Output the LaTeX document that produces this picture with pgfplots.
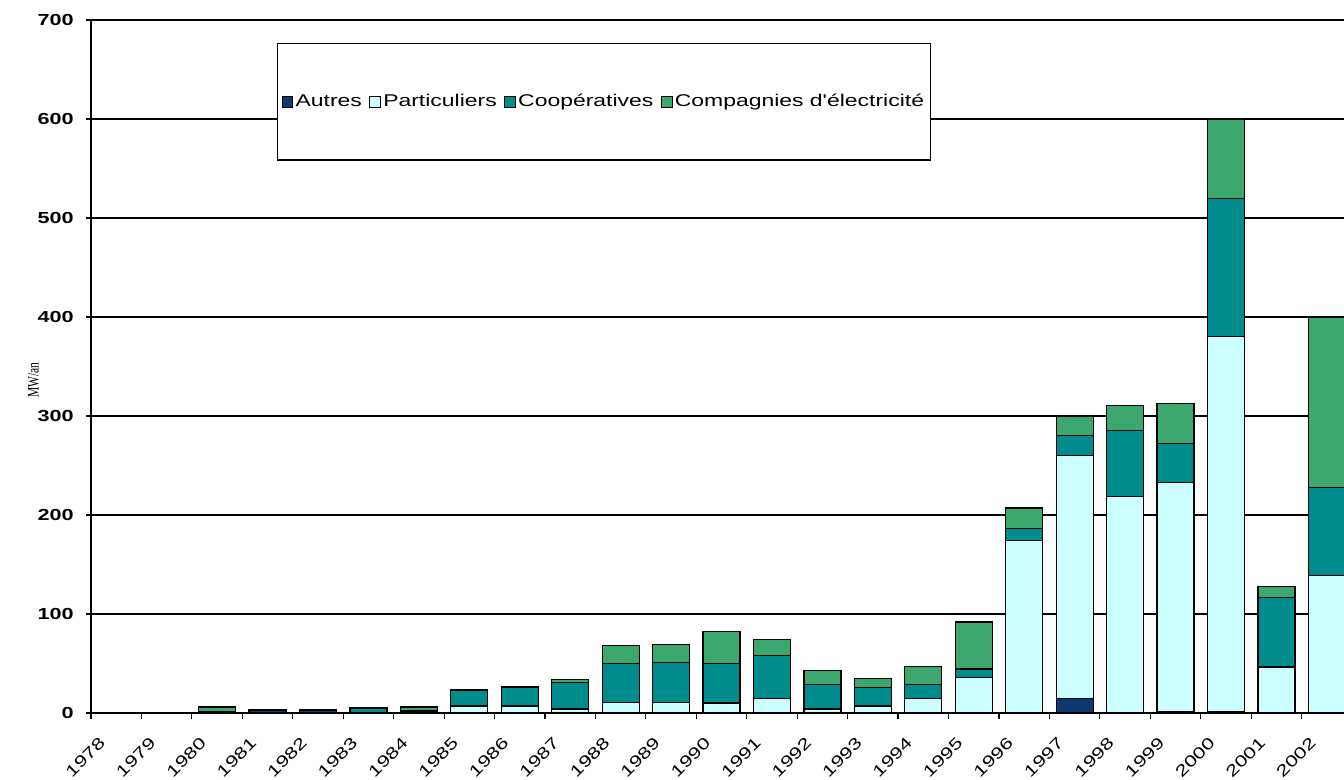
\documentclass[border=0pt]{standalone}
\usepackage{fontspec}
\setmainfont{Liberation Sans}[FakeStretch=1.35]
\newfontfamily\legfont{Liberation Sans}[FakeStretch=1.35, Ligatures=TeXOff]
\newfontfamily\timesfont{Liberation Serif}[FakeStretch=0.72]
\usepackage{pgfplots}
\usepackage{pgfplotstable}
\pgfplotsset{compat=1.18}
\definecolor{cAutres}{RGB}{12,58,110}
\definecolor{cPartic}{RGB}{204,255,255}
\definecolor{cCoop}{RGB}{0,140,140}
\definecolor{cComp}{RGB}{60,168,112}
\pgfplotstableread{
x autres partic coop comp
0 0 0 0 0
1 0 0 0 0
2 0 0 1.5 4.5
3 3 0 0 0.5
4 3 0 0 0.5
5 0 0.5 4.5 0.5
6 0 0.5 1.5 4
7 0 7 16 0.3
8 0 7 19 0.3
9 0 4 27 3
10 0 11 39 18
11 0 11 40 18
12 0 10 40 32
13 0 15 43 16
14 0 4 25 14
15 0 7 19 9
16 0 15 14 18
17 0 35.5 9 47.5
18 0 174 12 21
19 15 245 20 20
20 0 219 66 26
21 1 232 39 41
22 1.5 378.5 140 80
23 0 46.5 70 11
24 0 139 89 172
}\datatable
\begin{document}
\begin{tikzpicture}
\useasboundingbox (-45.5pt,-33.5pt) rectangle (626.5pt,356.5pt);
\begin{axis}[
  at={(0pt,0pt)}, anchor=south west,
  scale only axis, width=626.5pt, height=346.5pt,
  xmin=-0.5, xmax=24.34, ymin=0, ymax=700,
  ybar stacked, bar width=0.733,
  axis x line*=bottom, axis y line*=left,
  axis line style={-, line width=0.7pt},
  ytick={0,100,...,700},
  ymajorgrids, grid style={black, line width=0.7pt},
  xtick={0,...,24},
  xticklabels={1978,1979,1980,1981,1982,1983,1984,1985,1986,1987,1988,1989,1990,1991,1992,1993,1994,1995,1996,1997,1998,1999,2000,2001,2002},
  major x tick style={draw=none},
  minor xtick={-0.5,0.5,...,24.5},
  minor x tick style={black, line width=0.6pt},
  tick align=outside, major tick length=2.5pt, minor tick length=3pt,
  ytick style={black, line width=0.6pt},
  scaled y ticks=false,
  /pgf/number format/assume math mode=true,
  yticklabel style={font=\bfseries\fontsize{8}{9.6}\selectfont, anchor=east, inner sep=0pt, xshift=-6pt},
  xticklabel style={font=\fontsize{8}{9.6}\selectfont, xshift=-9pt, yshift=-9pt, rotate=45, anchor=north east, inner sep=0pt},
  ylabel={MW/an},
  ylabel style={font=\timesfont\fontsize{8}{9}\selectfont, at={(axis description cs:-0.046,0.48)}, anchor=center},
  legend columns=-1,
  legend style={at={(axis description cs:0.1484,0.9668)}, anchor=north west, draw=black, line width=0.6pt,
    inner xsep=2pt, inner ysep=24pt, font=\legfont\fontsize{8.5}{10}\selectfont,
    nodes={inner sep=1.2pt, minimum width=0pt, minimum height=0pt},
    /tikz/every even column/.append style={column sep=2.5pt}},
  legend image code/.code={\draw[#1, line width=0.4pt] (0pt,-2.7pt) rectangle (5.4pt,2.7pt);},
]
\addplot[fill=cAutres, draw=black, line width=0.6pt] table[x=x, y=autres]{\datatable};
\addlegendentry{Autres}
\addplot[fill=cPartic, draw=black, line width=0.6pt] table[x=x, y=partic]{\datatable};
\addlegendentry{Particuliers}
\addplot[fill=cCoop, draw=black, line width=0.6pt] table[x=x, y=coop]{\datatable};
\addlegendentry{Coopératives}
\addplot[fill=cComp, draw=black, line width=0.6pt] table[x=x, y=comp]{\datatable};
\addlegendentry{Compagnies d'électricité}
\end{axis}
\end{tikzpicture}
\end{document}
